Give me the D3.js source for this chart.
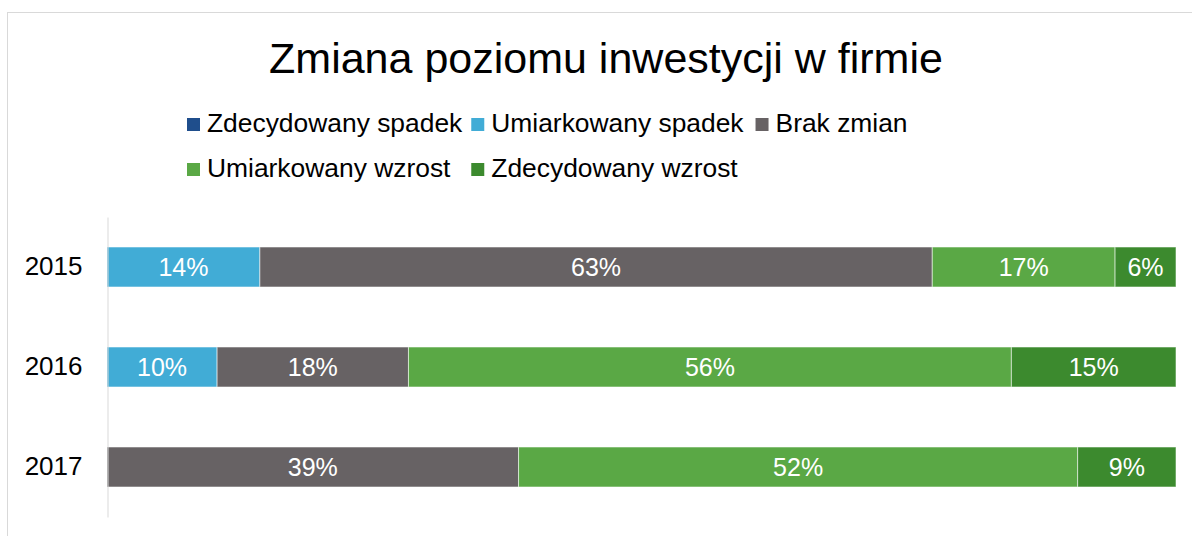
<!DOCTYPE html>
<meta charset="utf-8">
<script src="https://d3js.org/d3.v7.min.js"></script>
<style>
  body { margin: 0; background: #fff; }
  svg { font-family: "Liberation Sans", Arial, sans-serif; }
</style>
<div id="chart"></div>

<script>
// data (percent of firms per year)
const years = ["2015", "2016", "2017"];
const seriesNames = ["Zdecydowany spadek", "Umiarkowany spadek", "Brak zmian", "Umiarkowany wzrost", "Zdecydowany wzrost"];
const strongDecrease = [0, 0, 0];
const moderateDecrease = [14.3, 10.3, 0];
const noChange = [62.9, 17.9, 38.5];
const moderateIncrease = [17.1, 56.4, 52.3];
const strongIncrease = [5.7, 15.4, 9.2];
const colors = ["#1f4e8c", "#41acd6", "#676264", "#5aa845", "#3c8a2e"];

const W = 1192, H = 536;
const seriesValues = [strongDecrease, moderateDecrease, noChange, moderateIncrease, strongIncrease];

// build rows for d3.stack
const rows = years.map(function (y, i) {
  const r = { year: y };
  seriesNames.forEach(function (s, j) { r[s] = seriesValues[j][i]; });
  return r;
});

const svg = d3.select("#chart").append("svg")
  .attr("width", W)
  .attr("height", H);

// chart frame (runs off the right and bottom edges)
svg.append("rect")
  .attr("x", 7.5).attr("y", 12.5)
  .attr("width", W + 20).attr("height", H + 20)
  .attr("fill", "#fff")
  .attr("stroke", "#d9d9d9");

// title
svg.append("text")
  .attr("x", 606).attr("y", 73)
  .attr("text-anchor", "middle")
  .attr("font-size", 43)
  .attr("fill", "#000")
  .text("Zmiana poziomu inwestycji w firmie");

// scales
const x = d3.scaleLinear().domain([0, 1]).range([107, 1176]);
const y = d3.scaleBand().domain(years).range([217, 517]).paddingInner(0.6).paddingOuter(0.3);
const color = d3.scaleOrdinal().domain(seriesNames).range(colors);

const stacked = d3.stack().keys(seriesNames).offset(d3.stackOffsetExpand)(rows);

// bars
const layer = svg.append("g").selectAll("g")
  .data(stacked)
  .join("g")
    .attr("fill", function (d) { return color(d.key); });

layer.selectAll("rect")
  .data(function (d) { return d; })
  .join("rect")
    .attr("x", function (d) { return x(d[0]); })
    .attr("y", function (d) { return y(d.data.year); })
    .attr("width", function (d) { return x(d[1]) - x(d[0]); })
    .attr("height", y.bandwidth())
    .attr("stroke", "rgba(255,255,255,0.55)")
    .attr("stroke-width", 1);

// value labels
layer.selectAll("text")
  .data(function (d) { return d.filter(function (p) { return p.data[d.key] > 0; }).map(function (p) { p.key = d.key; return p; }); })
  .join("text")
    .attr("x", function (d) { return (x(d[0]) + x(d[1])) / 2; })
    .attr("y", function (d) { return y(d.data.year) + y.bandwidth() / 2 + 9; })
    .attr("text-anchor", "middle")
    .attr("font-size", 25)
    .attr("fill", "#fff")
    .text(function (d) { return Math.round(d.data[d.key]) + "%"; });

// category axis
const yAxis = svg.append("g")
  .attr("transform", "translate(107.5,0)")
  .call(d3.axisLeft(y).tickSize(0).tickSizeOuter(0).tickPadding(25));
yAxis.select(".domain").attr("stroke", "#d9d9d9");
yAxis.selectAll("text")
  .attr("font-family", "Liberation Sans, Arial, sans-serif")
  .attr("font-size", 26)
  .attr("fill", "#000");

// legend: two rows, uniform columns like Excel
const legend = svg.append("g");
const items = legend.selectAll("g")
  .data(seriesNames)
  .join("g");
items.append("rect")
  .attr("width", 13).attr("height", 13)
  .attr("y", -14)
  .attr("fill", function (d) { return color(d); });
items.append("text")
  .attr("x", 20)
  .attr("font-size", 26.4)
  .attr("fill", "#000")
  .text(function (d) { return d; });

let maxW = 0;
items.selectAll("text").each(function () { maxW = Math.max(maxW, this.getComputedTextLength()); });
const colW = 20 + maxW + 9;
const legendLeft = 187;
items.attr("transform", function (d, i) {
  const row = i < 3 ? 0 : 1;
  const col = i < 3 ? i : i - 3;
  return "translate(" + (legendLeft + col * colW) + "," + (132 + row * 45) + ")";
});
</script>
